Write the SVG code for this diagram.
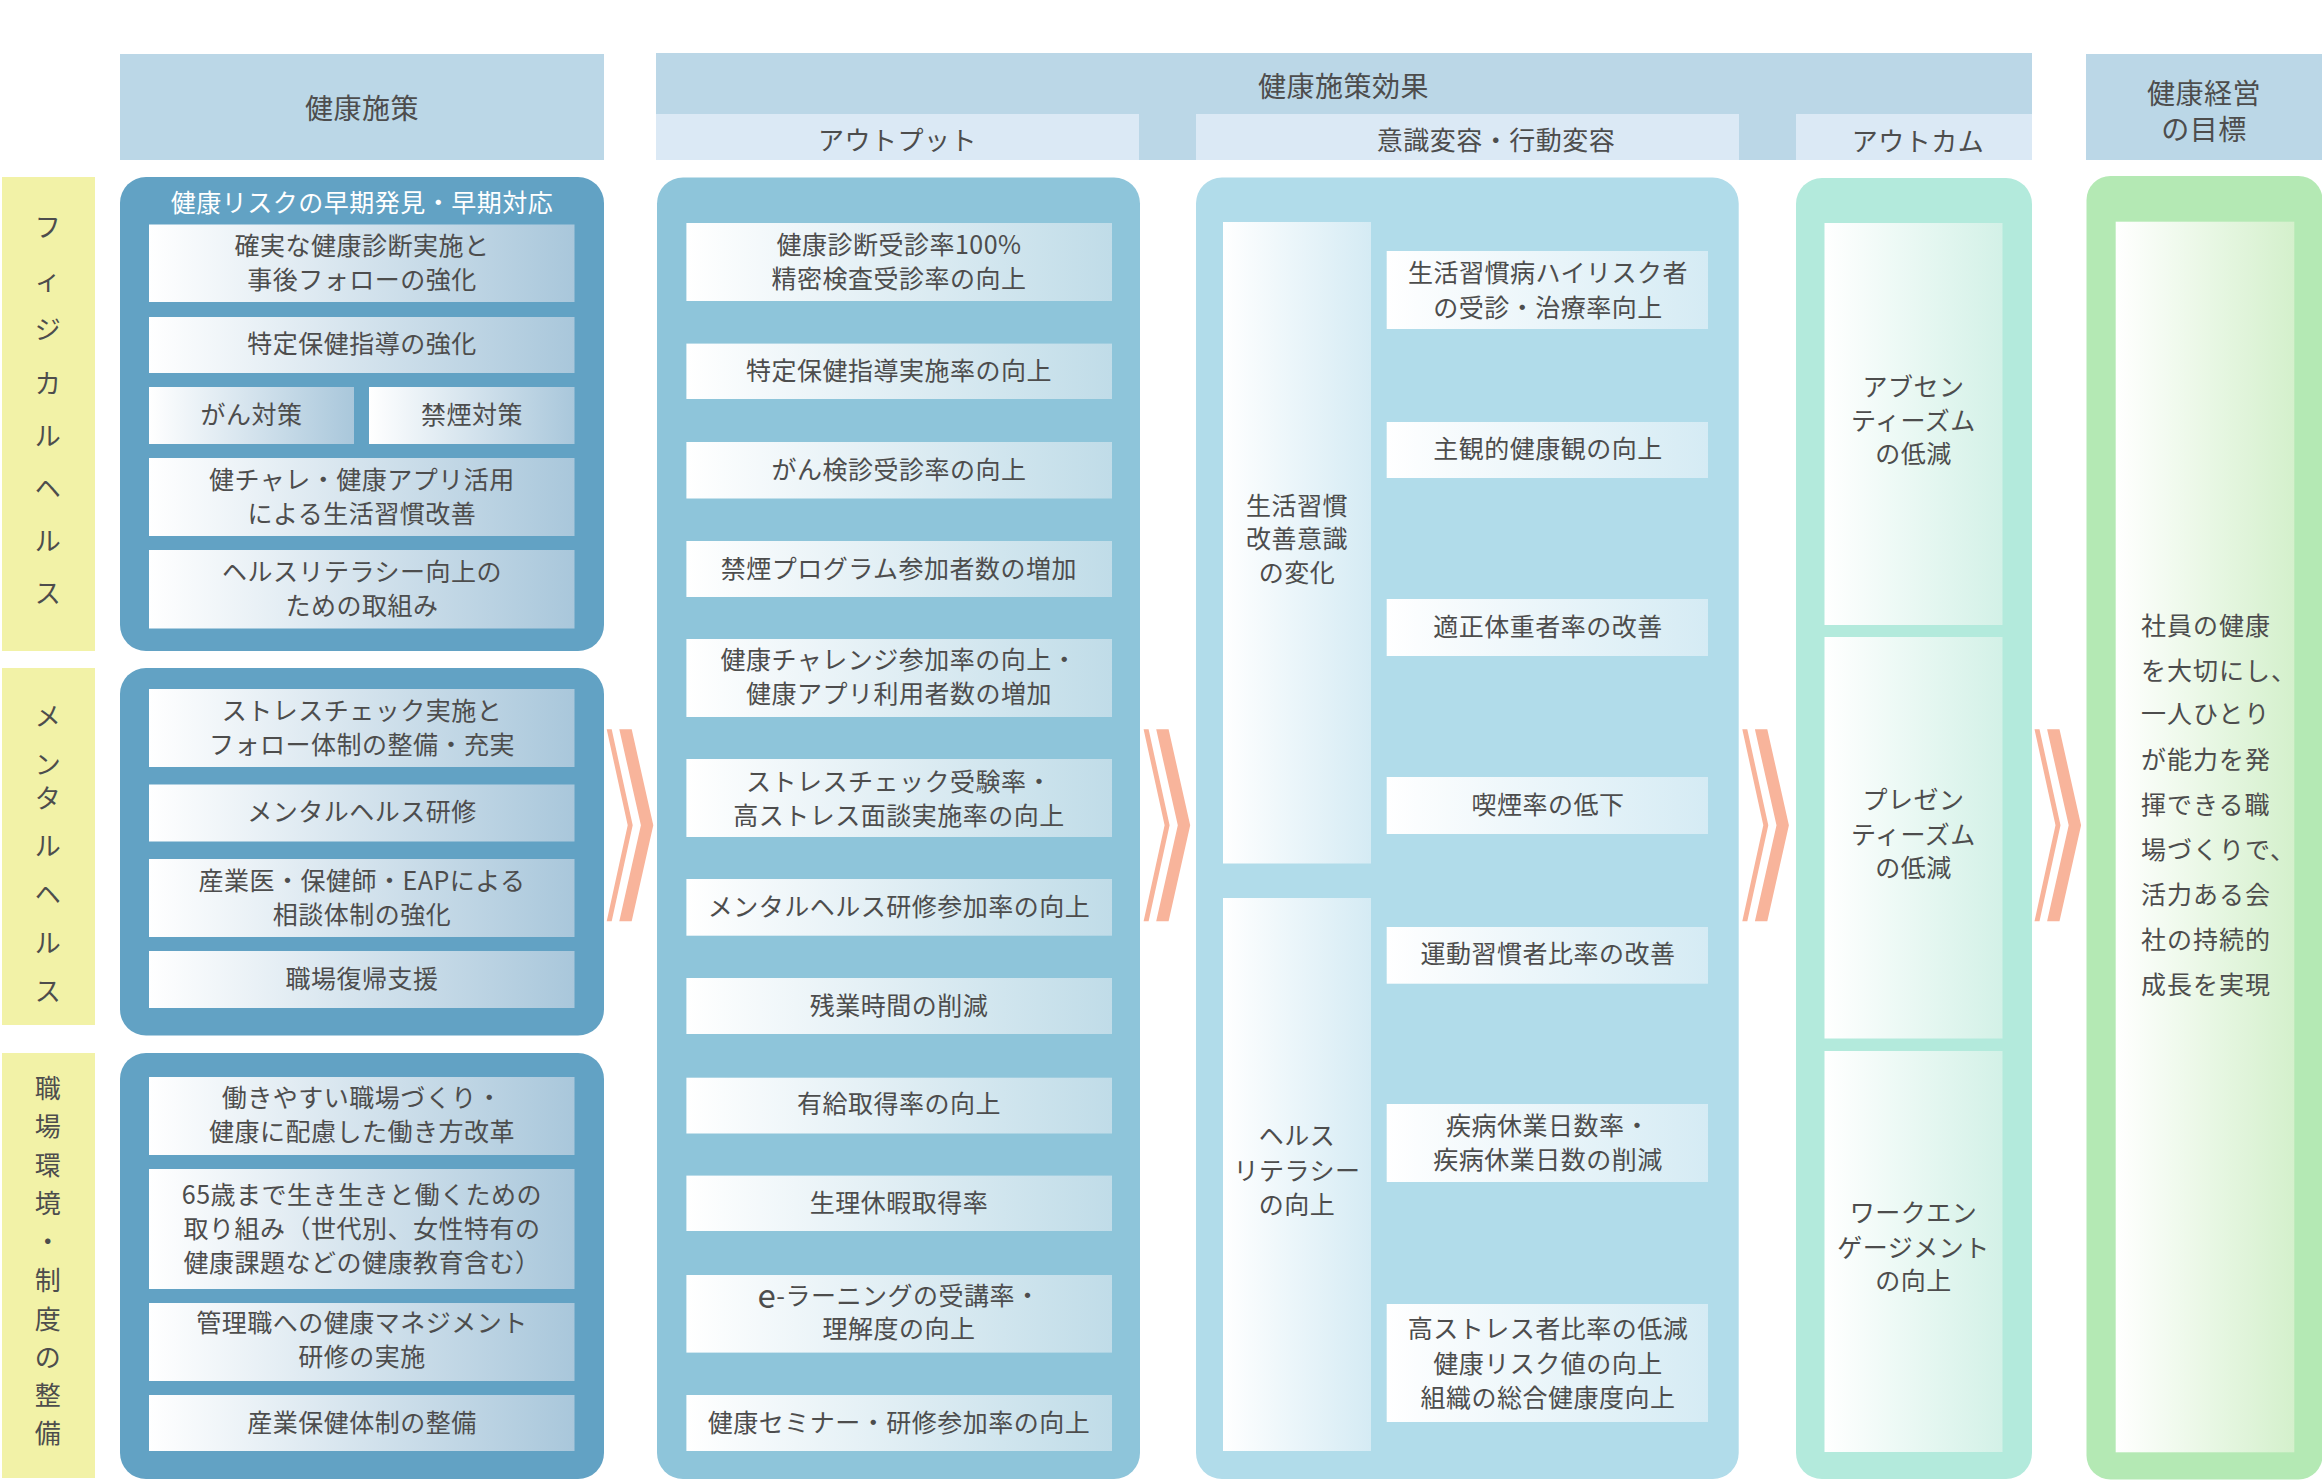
<svg xmlns="http://www.w3.org/2000/svg" width="2322" height="1480" viewBox="0 0 2322 1480">
<defs>
<linearGradient id="gL" x1="0" y1="0" x2="1" y2="0"><stop offset="0" stop-color="#ffffff"/><stop offset="1" stop-color="#a9c7db"/></linearGradient>
<linearGradient id="gO" x1="0" y1="0" x2="1" y2="0"><stop offset="0" stop-color="#ffffff"/><stop offset="1" stop-color="#c0dce8"/></linearGradient>
<linearGradient id="gM" x1="0" y1="0" x2="1" y2="0"><stop offset="0" stop-color="#ffffff"/><stop offset="1" stop-color="#d5ebf4"/></linearGradient>
<linearGradient id="gC" x1="0" y1="0" x2="1" y2="0"><stop offset="0" stop-color="#ffffff"/><stop offset="1" stop-color="#d3f1e7"/></linearGradient>
<linearGradient id="gG" x1="0" y1="0" x2="1" y2="0"><stop offset="0" stop-color="#ffffff"/><stop offset="1" stop-color="#d4f0cc"/></linearGradient>
<g id="chev">
<polygon points="0,0 5,0 26,96 5,192 0,192 21,96"/>
<polygon points="12.6,0 25,0 46.6,96 25,192 12.6,192 34.2,96"/>
</g>
<style>
text{font-family:"Noto Sans CJK JP","Noto Sans",sans-serif;fill:#4d4d4d;text-anchor:middle;dominant-baseline:central;font-size:25px;letter-spacing:0.5px;transform:translateY(-3px)}
.h{font-size:28px;transform:none}
.s{font-size:26px}
.nt{transform:none}
.w{fill:#ffffff}
.lbl{fill:#f2f2a7}
.hd{fill:#bbd7e7}
.sh{fill:#dbe9f5}
.bl{fill:#62a2c4}
.bo{fill:#8ec5da}
.bm{fill:#b1dcea}
.bc{fill:#b3eadc}
.bg{fill:#b4e9b4}
.iL{fill:url(#gL)}
.iO{fill:url(#gO)}
.iM{fill:url(#gM)}
.iC{fill:url(#gC)}
.iG{fill:url(#gG)}
.gl{text-anchor:start;letter-spacing:1px}
#connectors{fill:#f8b49b}
</style>
</defs>
<rect width="2322" height="1480" fill="#ffffff"/>

<g id="headers">
<rect class="hd" x="120" y="54" width="484" height="106"/>
<text class="h" x="362" y="107">健康施策</text>
<rect class="hd" x="656" y="53" width="1376" height="107"/>
<text class="h" x="1343.5" y="85">健康施策効果</text>
<rect class="sh" x="656" y="114" width="483" height="46"/>
<text class="s nt" x="897.5" y="138">アウトプット</text>
<rect class="sh" x="1196" y="114" width="543" height="46"/>
<text class="s nt" x="1496" y="138">意識変容・行動変容</text>
<rect class="sh" x="1796" y="114" width="236" height="46"/>
<text class="s nt" x="1918" y="139">アウトカム</text>
<rect class="hd" x="2086" y="54" width="236" height="106"/>
<text class="h"><tspan x="2204" y="92">健康経営</tspan><tspan x="2204" y="128">の目標</tspan></text>
</g>

<g id="label-physical">
<rect class="lbl" x="2" y="177" width="93" height="474"/>
<text class="s"><tspan x="48" y="228">フ</tspan><tspan x="48" y="281">ィ</tspan><tspan x="48" y="330">ジ</tspan><tspan x="48" y="384">カ</tspan><tspan x="48" y="437">ル</tspan><tspan x="48" y="489">ヘ</tspan><tspan x="48" y="542">ル</tspan><tspan x="48" y="594">ス</tspan></text>
</g>
<g id="label-mental">
<rect class="lbl" x="2" y="668" width="93" height="357"/>
<text class="s"><tspan x="48" y="717">メ</tspan><tspan x="48" y="765">ン</tspan><tspan x="48" y="799">タ</tspan><tspan x="48" y="847">ル</tspan><tspan x="48" y="895">ヘ</tspan><tspan x="48" y="944">ル</tspan><tspan x="48" y="992">ス</tspan></text>
</g>
<g id="label-workplace">
<rect class="lbl" x="2" y="1053" width="93" height="425"/>
<text class="s"><tspan x="48" y="1089">職</tspan><tspan x="48" y="1127">場</tspan><tspan x="48" y="1166">環</tspan><tspan x="48" y="1204">境</tspan><tspan x="48" y="1242">・</tspan><tspan x="48" y="1281">制</tspan><tspan x="48" y="1320">度</tspan><tspan x="48" y="1358">の</tspan><tspan x="48" y="1396">整</tspan><tspan x="48" y="1434">備</tspan></text>
</g>

<g id="measures-physical">
<rect class="bl" x="120" y="177" width="484" height="474" rx="26"/>
<text class="w nt" x="362" y="201">健康リスクの早期発見・早期対応</text>
<rect class="iL" x="149" y="224.5" width="425.5" height="77.5"/>
<text><tspan x="362" y="247">確実な健康診断実施と</tspan><tspan x="362" y="281">事後フォローの強化</tspan></text>
<rect class="iL" x="149" y="317" width="425.5" height="56"/>
<text x="362" y="345">特定保健指導の強化</text>
<rect class="iL" x="149" y="387" width="205" height="57"/>
<text x="251.5" y="415.5">がん対策</text>
<rect class="iL" x="369" y="387" width="205.5" height="57"/>
<text x="472" y="415.5">禁煙対策</text>
<rect class="iL" x="149" y="458" width="425.5" height="78"/>
<text><tspan x="362" y="481">健チャレ・健康アプリ活用</tspan><tspan x="362" y="515">による生活習慣改善</tspan></text>
<rect class="iL" x="149" y="550" width="425.5" height="78.5"/>
<text><tspan x="362" y="573">ヘルスリテラシー向上の</tspan><tspan x="362" y="607">ための取組み</tspan></text>
</g>

<g id="measures-mental">
<rect class="bl" x="120" y="668" width="484" height="367.5" rx="26"/>
<rect class="iL" x="149" y="689" width="425.5" height="78"/>
<text><tspan x="362" y="712">ストレスチェック実施と</tspan><tspan x="362" y="746">フォロー体制の整備・充実</tspan></text>
<rect class="iL" x="149" y="784.5" width="425.5" height="57"/>
<text x="362" y="813">メンタルヘルス研修</text>
<rect class="iL" x="149" y="859" width="425.5" height="78"/>
<text><tspan x="362" y="882">産業医・保健師・EAPによる</tspan><tspan x="362" y="916">相談体制の強化</tspan></text>
<rect class="iL" x="149" y="951" width="425.5" height="57"/>
<text x="362" y="980">職場復帰支援</text>
</g>

<g id="measures-workplace">
<rect class="bl" x="120" y="1053" width="484" height="426" rx="26"/>
<rect class="iL" x="149" y="1077" width="425.5" height="78"/>
<text><tspan x="362" y="1099">働きやすい職場づくり・</tspan><tspan x="362" y="1133">健康に配慮した働き方改革</tspan></text>
<rect class="iL" x="149" y="1169" width="425.5" height="120"/>
<text><tspan x="362" y="1196">65歳まで生き生きと働くための</tspan><tspan x="362" y="1230">取り組み（世代別、女性特有の</tspan><tspan x="362" y="1264">健康課題などの健康教育含む）</tspan></text>
<rect class="iL" x="149" y="1303" width="425.5" height="78"/>
<text><tspan x="362" y="1324">管理職への健康マネジメント</tspan><tspan x="362" y="1358">研修の実施</tspan></text>
<rect class="iL" x="149" y="1395" width="425.5" height="56"/>
<text x="362" y="1424">産業保健体制の整備</text>
</g>

<g id="outputs">
<rect class="bo" x="657" y="177.5" width="483" height="1301.5" rx="26"/>
<rect class="iO" x="686.4" y="223" width="425.6" height="78"/>
<text><tspan x="899" y="246">健康診断受診率100%</tspan><tspan x="899" y="280">精密検査受診率の向上</tspan></text>
<rect class="iO" x="686.4" y="343.6" width="425.6" height="55.4"/>
<text x="899" y="372">特定保健指導実施率の向上</text>
<rect class="iO" x="686.4" y="442" width="425.6" height="56.5"/>
<text x="899" y="471">がん検診受診率の向上</text>
<rect class="iO" x="686.4" y="541" width="425.6" height="56"/>
<text x="899" y="570">禁煙プログラム参加者数の増加</text>
<rect class="iO" x="686.4" y="639" width="425.6" height="78"/>
<text><tspan x="899" y="661">健康チャレンジ参加率の向上・</tspan><tspan x="899" y="695">健康アプリ利用者数の増加</tspan></text>
<rect class="iO" x="686.4" y="759" width="425.6" height="78"/>
<text><tspan x="899" y="783">ストレスチェック受験率・</tspan><tspan x="899" y="817">高ストレス面談実施率の向上</tspan></text>
<rect class="iO" x="686.4" y="879" width="425.6" height="56.7"/>
<text x="899" y="908">メンタルヘルス研修参加率の向上</text>
<rect class="iO" x="686.4" y="978" width="425.6" height="56"/>
<text x="899" y="1007">残業時間の削減</text>
<rect class="iO" x="686.4" y="1077.7" width="425.6" height="55.8"/>
<text x="899" y="1105">有給取得率の向上</text>
<rect class="iO" x="686.4" y="1175.6" width="425.6" height="55.4"/>
<text x="899" y="1204">生理休暇取得率</text>
<rect class="iO" x="686.4" y="1275" width="425.6" height="77.6"/>
<text><tspan x="899" y="1297"><tspan style="font-size:33px">e</tspan>-ラーニングの受講率・</tspan><tspan x="899" y="1330">理解度の向上</tspan></text>
<rect class="iO" x="686.4" y="1395" width="425.6" height="56"/>
<text x="899" y="1424">健康セミナー・研修参加率の向上</text>
</g>

<g id="behavior-change">
<rect class="bm" x="1196" y="177.5" width="542.7" height="1301.5" rx="26"/>
<rect class="iM" x="1223" y="222" width="148" height="641.5"/>
<text><tspan x="1297" y="507">生活習慣</tspan><tspan x="1297" y="540">改善意識</tspan><tspan x="1297" y="574">の変化</tspan></text>
<rect class="iM" x="1223" y="898" width="148" height="553"/>
<text><tspan x="1297" y="1137">ヘルス</tspan><tspan x="1297" y="1172">リテラシー</tspan><tspan x="1297" y="1206">の向上</tspan></text>
<rect class="iM" x="1386.7" y="251" width="321.3" height="78"/>
<text><tspan x="1548" y="274">生活習慣病ハイリスク者</tspan><tspan x="1548" y="309">の受診・治療率向上</tspan></text>
<rect class="iM" x="1386.7" y="422" width="321.3" height="56"/>
<text x="1548" y="450">主観的健康観の向上</text>
<rect class="iM" x="1386.7" y="599" width="321.3" height="57"/>
<text x="1548" y="628">適正体重者率の改善</text>
<rect class="iM" x="1386.7" y="777" width="321.3" height="57"/>
<text x="1548" y="806">喫煙率の低下</text>
<rect class="iM" x="1386.7" y="927" width="321.3" height="56.7"/>
<text x="1548" y="955">運動習慣者比率の改善</text>
<rect class="iM" x="1386.7" y="1104" width="321.3" height="78"/>
<text><tspan x="1548" y="1127">疾病休業日数率・</tspan><tspan x="1548" y="1161">疾病休業日数の削減</tspan></text>
<rect class="iM" x="1386.7" y="1304" width="321.3" height="118"/>
<text><tspan x="1548" y="1330">高ストレス者比率の低減</tspan><tspan x="1548" y="1365">健康リスク値の向上</tspan><tspan x="1548" y="1399">組織の総合健康度向上</tspan></text>
</g>

<g id="outcomes">
<rect class="bc" x="1796" y="178" width="236" height="1301" rx="26"/>
<rect class="iC" x="1824.5" y="223" width="178" height="402"/>
<text><tspan x="1913.5" y="388">アブセン</tspan><tspan x="1913.5" y="422">ティーズム</tspan><tspan x="1913.5" y="455">の低減</tspan></text>
<rect class="iC" x="1824.5" y="637" width="178" height="401.5"/>
<text><tspan x="1913.5" y="801">プレゼン</tspan><tspan x="1913.5" y="836">ティーズム</tspan><tspan x="1913.5" y="869">の低減</tspan></text>
<rect class="iC" x="1824.5" y="1051" width="178" height="401"/>
<text><tspan x="1913.5" y="1214">ワークエン</tspan><tspan x="1913.5" y="1249">ゲージメント</tspan><tspan x="1913.5" y="1282">の向上</tspan></text>
</g>

<g id="goal">
<rect class="bg" x="2086.5" y="176" width="236" height="1303.5" rx="24"/>
<rect class="iG" x="2115.7" y="221.7" width="178.6" height="1230.6"/>
<text class="gl"><tspan x="2141" y="627">社員の健康</tspan><tspan x="2141" y="672">を大切にし、</tspan><tspan x="2141" y="715">一人ひとり</tspan><tspan x="2141" y="761">が能力を発</tspan><tspan x="2141" y="806">揮できる職</tspan><tspan x="2141" y="851">場づくりで、</tspan><tspan x="2141" y="896">活力ある会</tspan><tspan x="2141" y="941">社の持続的</tspan><tspan x="2141" y="986">成長を実現</tspan></text>
</g>

<g id="connectors">
<use href="#chev" x="606.7" y="729.3"/>
<use href="#chev" x="1143.6" y="729.3"/>
<use href="#chev" x="1742.3" y="729.3"/>
<use href="#chev" x="2034.5" y="729.3"/>
</g>
</svg>
